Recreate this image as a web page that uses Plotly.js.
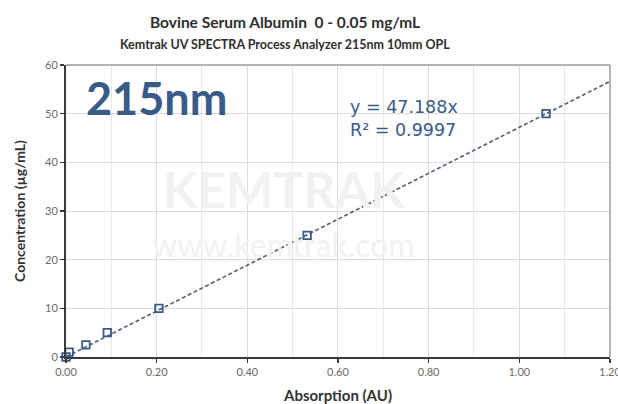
<!DOCTYPE html>
<html>
<head>
<meta charset="utf-8">
<script src="https://cdn.plot.ly/plotly-3.0.1.min.js"></script>
<style>html,body{margin:0;padding:0;background:#fff;}#chart{width:618px;height:404px;}</style>
</head>
<body>
<div id="chart"></div>
<script>
// Data
const absorption = [0, 0.007, 0.044, 0.091, 0.205, 0.532, 1.059];
const concentration = [0, 1, 2.5, 5, 10, 25, 50];
const slope = 47.188;
const rSquared = 0.9997;
const trendX = [0, 1.2];
const trendY = trendX.map(v => slope * v);

const xTicks = [0, 0.2, 0.4, 0.6, 0.8, 1.0, 1.2];
const yTicks = [0, 10, 20, 30, 40, 50, 60];

const blue = '#3a5a87';
const font = 'Lato, "Open Sans", sans-serif';
const eqFont = '"DejaVu Sans", "Open Sans", sans-serif';

const traces = [
  {
    x: trendX, y: trendY, type: 'scatter', mode: 'lines',
    line: {color: '#4f5f75', width: 1.6, dash: '4px,2.5px'},
    hoverinfo: 'skip', showlegend: false, cliponaxis: false
  },
  {
    x: absorption, y: concentration, type: 'scatter', mode: 'markers',
    marker: {symbol: 'square-open', size: 7.5, color: blue, line: {width: 1.8, color: blue}},
    showlegend: false, cliponaxis: false
  }
];

const layout = {
  width: 618, height: 404,
  margin: {l: 66, r: 8, t: 65, b: 47},
  paper_bgcolor: '#fff', plot_bgcolor: '#fff',
  font: {family: font, color: '#555', size: 11},
  xaxis: {
    range: [0, 1.2001], tickvals: xTicks, tickformat: '.2f', ticklabeloverflow: 'allow',
    showgrid: true, gridcolor: '#dcdcdc', gridwidth: 1,
    minor: {dtick: 0.1, showgrid: true, gridcolor: '#e8e8e8', ticks: ''},
    showline: true, linecolor: '#3a3a3a', linewidth: 2,
    ticks: 'outside', ticklen: 4, tickcolor: '#3a3a3a', tickwidth: 1.5,
    zeroline: false, tickfont: {family: font, size: 11, color: '#6a6a6a'},
    title: {text: 'Absorption (AU)', font: {family: font, size: 15, color: '#333', weight: 'bold'}, standoff: 17}
  },
  yaxis: {
    range: [0, 60], tickvals: yTicks,
    showgrid: true, gridcolor: '#dcdcdc', gridwidth: 1,
    showline: true, linecolor: '#3a3a3a', linewidth: 2,
    ticks: 'outside', ticklen: 4, tickcolor: '#3a3a3a', tickwidth: 1.5,
    zeroline: false, tickfont: {family: font, size: 11, color: '#6a6a6a'},
    title: {text: 'Concentration (µg/mL)', font: {family: font, size: 14, color: '#333', weight: 'bold'}, standoff: 16}
  },
  shapes: [
    {type: 'line', xref: 'paper', yref: 'paper', x0: 0, x1: 1, y0: 1, y1: 1, line: {color: '#9a9a9a', width: 1.5}},
    {type: 'line', xref: 'paper', yref: 'paper', x0: 1, x1: 1, y0: 0, y1: 1, line: {color: '#9a9a9a', width: 1.5}}
  ],
  annotations: [
    {text: 'KEMTRAK', xref: 'paper', yref: 'paper', x: 0.40, y: 0.575, xanchor: 'center', yanchor: 'middle', showarrow: false,
     font: {family: font, size: 50, color: '#f1f1f1', weight: 'bold'}},
    {text: 'www.kemtrak.com', xref: 'paper', yref: 'paper', x: 0.40, y: 0.385, xanchor: 'center', yanchor: 'middle', showarrow: false,
     font: {family: font, size: 32, color: '#f1f1f1'}},
    {text: 'Bovine Serum Albumin  0 - 0.05 mg/mL', xref: 'paper', yref: 'paper', x: 0.4026, y: 1, yshift: 43,
     xanchor: 'center', yanchor: 'middle', showarrow: false,
     font: {family: font, size: 15.5, color: '#2e2e2e', weight: 'bold'}},
    {text: 'Kemtrak UV SPECTRA Process Analyzer 215nm 10mm OPL', xref: 'paper', yref: 'paper', x: 0.4026, y: 1, yshift: 21,
     xanchor: 'center', yanchor: 'middle', showarrow: false,
     font: {family: font, size: 12.5, color: '#2e2e2e', weight: 'bold'}},
    {text: '215nm', xref: 'paper', yref: 'paper', x: 0.034, y: 0.888, xanchor: 'left', yanchor: 'middle', showarrow: false,
     font: {family: font, size: 45, color: blue, weight: 'bold'}},
    {text: 'y = ' + slope + 'x<br>R² = ' + rSquared, xref: 'paper', yref: 'paper', x: 0.518, y: 0.817,
     xanchor: 'left', yanchor: 'middle', align: 'left', showarrow: false,
     font: {family: eqFont, size: 17.5, color: blue}}
  ]
};

Plotly.newPlot('chart', traces, layout, {displayModeBar: false, staticPlot: true});
</script>
</body>
</html>
